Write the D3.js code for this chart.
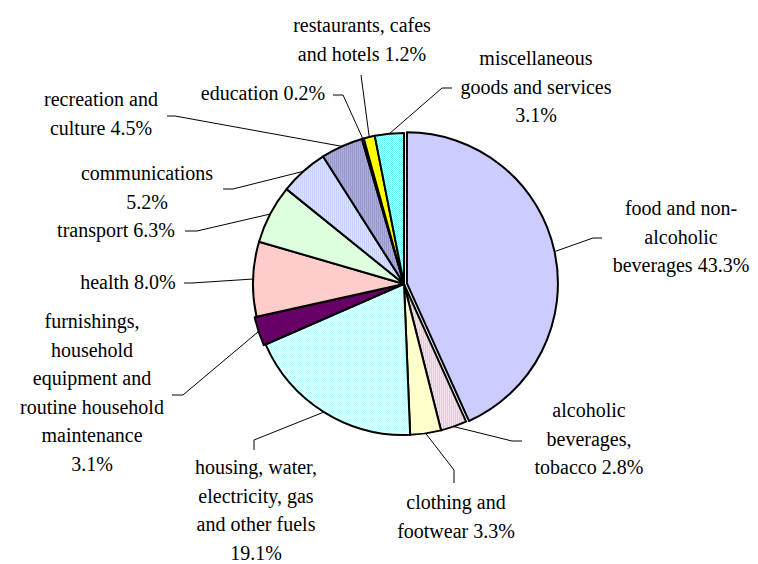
<!DOCTYPE html>
<html><head><meta charset="utf-8">
<script src="https://cdn.jsdelivr.net/npm/d3@7"></script>
<style>html,body{margin:0;padding:0;background:#fff;}svg{display:block;}</style>
</head><body>
<svg id="chart" width="758" height="564"></svg>
<script>
// ---- data ----
const categories = [
  ["food and non-", "alcoholic", "beverages 43.3%"],
  ["alcoholic", "beverages,", "tobacco 2.8%"],
  ["clothing and", "footwear 3.3%"],
  ["housing, water,", "electricity, gas", "and other fuels", "19.1%"],
  ["furnishings,", "household", "equipment and", "routine household", "maintenance", "3.1%"],
  ["health 8.0%"],
  ["transport 6.3%"],
  ["communications", "5.2%"],
  ["recreation and", "culture 4.5%"],
  ["education 0.2%"],
  ["restaurants, cafes", "and hotels 1.2%"],
  ["miscellaneous", "goods and services", "3.1%"]
];
const values = [43.3, 2.8, 3.3, 19.1, 3.1, 8.0, 6.3, 5.2, 4.5, 0.2, 1.2, 3.1];

// ---- styling / layout ----
const fills = ["#CCCCFF", "url(#pAlc)", "#FFFFCC", "url(#pHouse)", "#660066", "#FFCCCC",
               "#DDFFDD", "url(#pComm)", "url(#pRec)", "#660066", "#FFFF00", "url(#pMisc)"];
const explode = [3, 0, 0, 0, 2, 0, 0, 0, 0, 0, 0, 0];
// label layout: text centre x, first baseline, leader start, leader elbow
const labelLayout = [
  {cx: 681, b: 215, s: [602, 238], e: [593, 238]},
  {cx: 589, b: 417, s: [522, 441], e: [512, 441]},
  {cx: 456, b: 509, s: [454, 483], e: [454, 470]},
  {cx: 256, b: 474, s: [254, 450], e: [254, 440]},
  {cx: 92,  b: 328, s: [172, 395], e: [183, 395]},
  {cx: 128, b: 289, s: [184, 283], e: [192, 283]},
  {cx: 116, b: 237, s: [185, 231], e: [197, 231]},
  {cx: 147, b: 180, s: [223, 189], e: [233, 189]},
  {cx: 101, b: 106, s: [167, 116], e: [175, 116]},
  {cx: 263, b: 100, s: [333, 95],  e: [343, 95]},
  {cx: 362, b: 32,  s: [361, 75],  e: [361, 75]},
  {cx: 536, b: 65,  s: [452, 88],  e: [442, 88]}
];
const lineH = 28.6;
const cx0 = 404, cy0 = 284, R = 151;

const svg = d3.select("#chart");
const defs = svg.append("defs");
function checker(id, c1, c2) {
  const p = defs.append("pattern").attr("id", id).attr("patternUnits", "userSpaceOnUse")
    .attr("width", 2).attr("height", 2);
  p.append("rect").attr("width", 2).attr("height", 2).attr("fill", c2);
  p.append("rect").attr("width", 1).attr("height", 1).attr("fill", c1);
  p.append("rect").attr("x", 1).attr("y", 1).attr("width", 1).attr("height", 1).attr("fill", c1);
}
function stripes(id, c1, c2) {
  const p = defs.append("pattern").attr("id", id).attr("patternUnits", "userSpaceOnUse")
    .attr("width", 2).attr("height", 2);
  p.append("rect").attr("width", 2).attr("height", 2).attr("fill", c2);
  p.append("rect").attr("width", 1).attr("height", 2).attr("fill", c1);
}
checker("pHouse", "#BFFFFF", "#FFFFFF");
checker("pMisc", "#66FFFF", "#FFFFFF");
stripes("pAlc", "#F2E2EA", "#E2CCDA");
stripes("pComm", "#C8D2FF", "#DAE2FF");
stripes("pRec", "#9999CC", "#ABABDD");

const pie = d3.pie().sort(null).value(d => d).startAngle(0).endAngle(2 * Math.PI);
const arcs = pie(values);
const arc = d3.arc().innerRadius(0).outerRadius(R);

const g = svg.append("g").attr("transform", `translate(${cx0},${cy0})`);
g.selectAll("path.slice").data(arcs).join("path")
  .attr("class", "slice")
  .attr("transform", (d, i) => {
    const m = (d.startAngle + d.endAngle) / 2;
    return `translate(${explode[i] * Math.sin(m)},${-explode[i] * Math.cos(m)})`;
  })
  .attr("d", arc)
  .attr("fill", (d, i) => fills[i])
  .attr("stroke", "#000")
  .attr("stroke-width", 2)
  .attr("stroke-linejoin", "round");

// leader lines
svg.append("g").selectAll("path").data(arcs).join("path")
  .attr("d", (d, i) => {
    const m = (d.startAngle + d.endAngle) / 2;
    const rr = R + explode[i];
    const px = cx0 + rr * Math.sin(m), py = cy0 - rr * Math.cos(m);
    const L = labelLayout[i];
    return `M${L.s[0]},${L.s[1]}L${L.e[0]},${L.e[1]}L${px},${py}`;
  })
  .attr("fill", "none").attr("stroke", "#000").attr("stroke-width", 1);

// labels
const lab = svg.append("g")
  .attr("fill", "#000").attr("text-anchor", "middle");
categories.forEach((lines, i) => {
  const L = labelLayout[i];
  const t = lab.append("text")
    .style("font-family", "\"Times\", \"Tinos\", \"FreeSerif\", Lato")
    .style("font-size", "20px");
  lines.forEach((s, k) => {
    t.append("tspan").attr("x", L.cx).attr("y", L.b + k * lineH).text(s);
  });
});
</script>
</body></html>
